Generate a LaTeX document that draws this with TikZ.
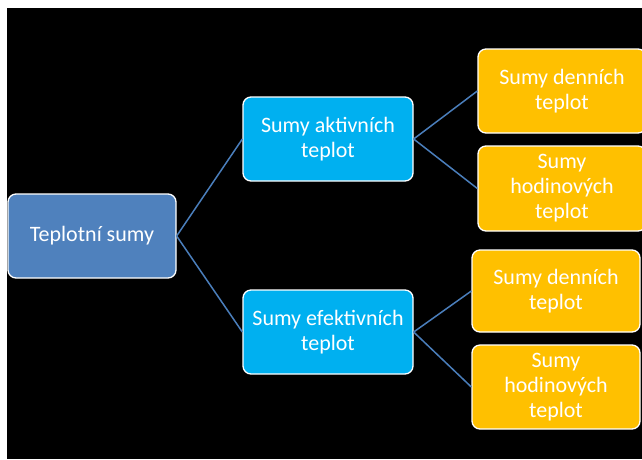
\documentclass[tikz,border=0pt]{standalone}
\usepackage{fontspec}
\setmainfont{Carlito}
\definecolor{rootblue}{HTML}{4F81BD}
\definecolor{midblue}{HTML}{00B0F0}
\definecolor{leafyellow}{HTML}{FFC000}
\definecolor{linkblue}{HTML}{4A7EBB}
\tikzset{
  box/.style={draw=white, line width=1.3pt, rounded corners=8pt, text=white,
    align=center, inner sep=0pt, font=\fontsize{22}{25}\selectfont},
  rootbox/.style={box, fill=rootblue, minimum width=168pt, minimum height=84pt},
  midbox/.style={box, fill=midblue, minimum width=170pt, minimum height=84pt},
  leafbox/.style={box, fill=leafyellow, minimum width=168pt, minimum height=84pt},
  link/.style={draw=linkblue, line width=1.5pt}
}
\begin{document}
\begin{tikzpicture}[x=1pt,y=1pt]
\useasboundingbox (0,0) rectangle (642,-459);
\fill[white] (0,0) rectangle (642,-459);
\fill[black] (7,-8) rectangle (642,-459);
\node[rootbox] (root) at (92,-236) {Teplotní sumy};
\node[midbox] (akt) at (328,-139) {Sumy aktivních\\teplot};
\node[midbox] (efe) at (328,-332) {Sumy efektivních\\teplot};
\node[leafbox] (a1) at (562,-91) {Sumy denních\\teplot};
\node[leafbox, minimum height=85pt] (a2) at (562,-188.5) {Sumy\\hodinových\\teplot};
\node[leafbox, minimum height=82pt] (e1) at (556,-291) {Sumy denních\\teplot};
\node[leafbox] (e2) at (556,-387) {Sumy\\hodinových\\teplot};
\draw[link] (root.east) -- (akt.west);
\draw[link] (root.east) -- (efe.west);
\draw[link] (akt.east) -- (a1.west);
\draw[link] (akt.east) -- (a2.west);
\draw[link] (efe.east) -- (e1.west);
\draw[link] (efe.east) -- (e2.west);
\end{tikzpicture}
\end{document}
